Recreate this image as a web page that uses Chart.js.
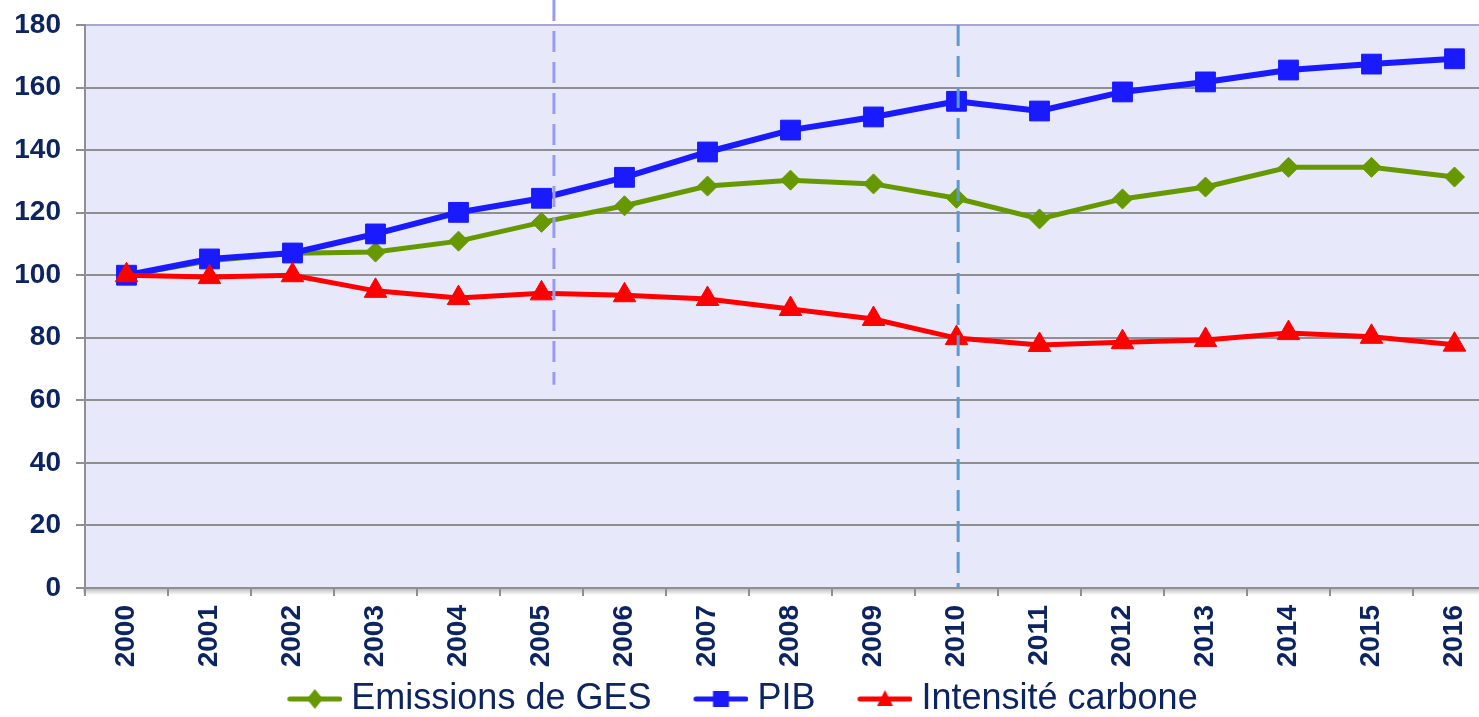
<!DOCTYPE html>
<html>
<head>
<meta charset="utf-8">
<script src="https://cdn.jsdelivr.net/npm/chart.js@4.4.1/dist/chart.umd.min.js"></script>
<style>
  html, body { margin: 0; padding: 0; background: #ffffff; overflow: hidden; }
  #wrap { width: 1479px; height: 717px; overflow: hidden; position: relative; }
  canvas { display: block; }
</style>
</head>
<body>
<div id="wrap"><canvas id="c" width="1496" height="727"></canvas></div>
<script>
// ---- data ----
const years = ['2000','2001','2002','2003','2004','2005','2006','2007','2008','2009','2010','2011','2012','2013','2014','2015','2016'];
const emissionsGES = [100, 104.6, 107, 107.4, 110.9, 116.9, 122.2, 128.5, 130.4, 129.2, 124.6, 118, 124.4, 128.2, 134.5, 134.5, 131.4];
const pib = [100, 105.2, 107.1, 113.2, 120.1, 124.6, 131.3, 139.4, 146.4, 150.6, 155.6, 152.5, 158.6, 161.8, 165.6, 167.5, 169.2];
const intensiteCarbone = [100, 99.4, 100, 95, 92.7, 94.2, 93.6, 92.4, 89.2, 86, 79.9, 77.7, 78.6, 79.3, 81.5, 80.3, 77.8];
const seriesNames = ['Emissions de GES', 'PIB', 'Intensité carbone'];
const yTicks = { min: 0, max: 180, step: 20 };
// reference lines: category position (index), top value (null = top of canvas), bottom value
const refLineX = [5.15, 10.02];
const refLineTop = [null, 180];
const refLineBottom = [65, 0];

// ---- styles ----
const NAVY = '#0c2461';
const GRID = '#8f8f8f';
const FONT = "'Liberation Sans', Arial, sans-serif";
const colors = ['#669900', '#1a1aff', '#ff0000'];
const refColors = ['#9a9af2', '#5b9bd5'];
const LEGEND_BOX = 75;     // legend box width (transparent lead-in)
const LEGEND_ICON_W = 93;  // icon canvas width; visible part is the last 55 px

function legendIcon(color, shape) {
  const c = document.createElement('canvas');
  c.width = LEGEND_ICON_W; c.height = 24;
  const g = c.getContext('2d');
  const x0 = LEGEND_ICON_W - 55;
  const cx = x0 + 27.5;
  g.strokeStyle = color; g.lineWidth = 5; g.lineCap = 'round';
  g.beginPath(); g.moveTo(x0 + 2.5, 12); g.lineTo(x0 + 52.5, 12); g.stroke();
  g.fillStyle = color;
  g.beginPath();
  if (shape === 'rect') {
    g.rect(cx - 8, 4, 16, 16);
  } else if (shape === 'rectRot') {
    g.moveTo(cx, 2); g.lineTo(cx + 8, 12); g.lineTo(cx, 22); g.lineTo(cx - 8, 12); g.closePath();
  } else {
    g.moveTo(cx, 3); g.lineTo(cx + 8, 19); g.lineTo(cx - 8, 19); g.closePath();
  }
  g.fill();
  return c;
}
const shapes = ['rectRot', 'rect', 'triangle'];
const icons = shapes.map((s, i) => legendIcon(colors[i], s));

const plotBg = {
  id: 'plotBg',
  afterLayout(chart) {
    if (chart.legend) { chart.legend.left -= 20; chart.legend.right -= 20; }
  },
  beforeDraw(chart) {
    const { ctx, chartArea: a } = chart;
    ctx.save();
    ctx.fillStyle = '#e8e8fb';
    ctx.fillRect(a.left, a.top, a.right - a.left, a.bottom - a.top);
    const grd = ctx.createLinearGradient(0, a.bottom, 0, a.bottom + 7);
    grd.addColorStop(0, 'rgba(120,120,120,0.55)');
    grd.addColorStop(1, 'rgba(120,120,120,0)');
    ctx.fillStyle = grd;
    ctx.fillRect(a.left - 2, a.bottom, a.right - a.left + 2, 7);
    ctx.restore();
  }
};

const refLines = {
  id: 'refLines',
  afterDatasetsDraw(chart) {
    const { ctx, scales: { x, y } } = chart;
    ctx.save();
    ctx.lineWidth = 3;
    ctx.setLineDash([21, 10]);
    refLineX.forEach((v, i) => {
      const px = x.getPixelForValue(v);
      const top = refLineTop[i] === null ? 0 : y.getPixelForValue(refLineTop[i]);
      const bot = y.getPixelForValue(refLineBottom[i]);
      ctx.strokeStyle = refColors[i];
      ctx.beginPath(); ctx.moveTo(px, top); ctx.lineTo(px, bot); ctx.stroke();
    });
    ctx.restore();
  }
};

const datasets = [
  { label: seriesNames[0], data: emissionsGES, borderColor: colors[0], backgroundColor: colors[0],
    borderWidth: 5, pointStyle: 'rectRot', pointRadius: 10, pointHoverRadius: 10, order: 3 },
  { label: seriesNames[1], data: pib, borderColor: colors[1], backgroundColor: colors[1],
    borderWidth: 6, pointStyle: 'rect', pointRadius: 14, pointHoverRadius: 14, order: 2 },
  { label: seriesNames[2], data: intensiteCarbone, borderColor: colors[2], backgroundColor: colors[2],
    borderWidth: 5, pointStyle: 'triangle', pointRadius: 13, pointHoverRadius: 13, order: 1 }
];
datasets.forEach(d => { d.tension = 0; d.pointBorderWidth = 1; d.pointBorderColor = d.borderColor; d.pointBackgroundColor = d.borderColor; });

new Chart(document.getElementById('c'), {
  type: 'line',
  data: { labels: years, datasets },
  plugins: [plotBg, refLines],
  options: {
    responsive: false,
    animation: false,
    devicePixelRatio: 1,
    layout: { autoPadding: false, padding: { top: 25, left: 0, right: 0, bottom: 0 } },
    plugins: {
      tooltip: { enabled: false },
      legend: {
        position: 'bottom',
        labels: {
          usePointStyle: true,
          pointStyleWidth: LEGEND_BOX,
          padding: 13,
          color: NAVY,
          font: { family: FONT, size: 36 },
          sort: (a, b) => a.datasetIndex - b.datasetIndex,
          generateLabels(chart) {
            const items = Chart.defaults.plugins.legend.labels.generateLabels(chart);
            items.forEach(it => { it.pointStyle = icons[it.datasetIndex]; });
            return items;
          }
        }
      }
    },
    scales: {
      x: {
        type: 'category',
        offset: true,
        afterFit(scale) { scale.height = 80; scale.paddingLeft = 0; scale.paddingRight = 0; },
        grid: { offset: true, drawOnChartArea: false, drawTicks: true, tickLength: 8, color: GRID, lineWidth: 2 },
        border: { display: true, color: GRID, width: 2 },
        ticks: { autoSkip: false, minRotation: 90, maxRotation: 90, padding: 9, color: NAVY,
                 font: { family: FONT, size: 28, weight: 'bold' } }
      },
      y: {
        min: yTicks.min, max: yTicks.max,
        afterFit(scale) { scale.width = 85; scale.paddingTop = 0; scale.paddingBottom = 0; },
        grid: { color: (c) => (c.tick && c.tick.value === yTicks.max ? '#a6a6d8' : GRID), tickColor: GRID,
                lineWidth: 2, tickLength: 9 },
        border: { display: true, color: GRID, width: 2 },
        ticks: { stepSize: yTicks.step, padding: 15, color: NAVY,
                 font: { family: FONT, size: 28, weight: 'bold' } }
      }
    }
  }
});
</script>
</body>
</html>
